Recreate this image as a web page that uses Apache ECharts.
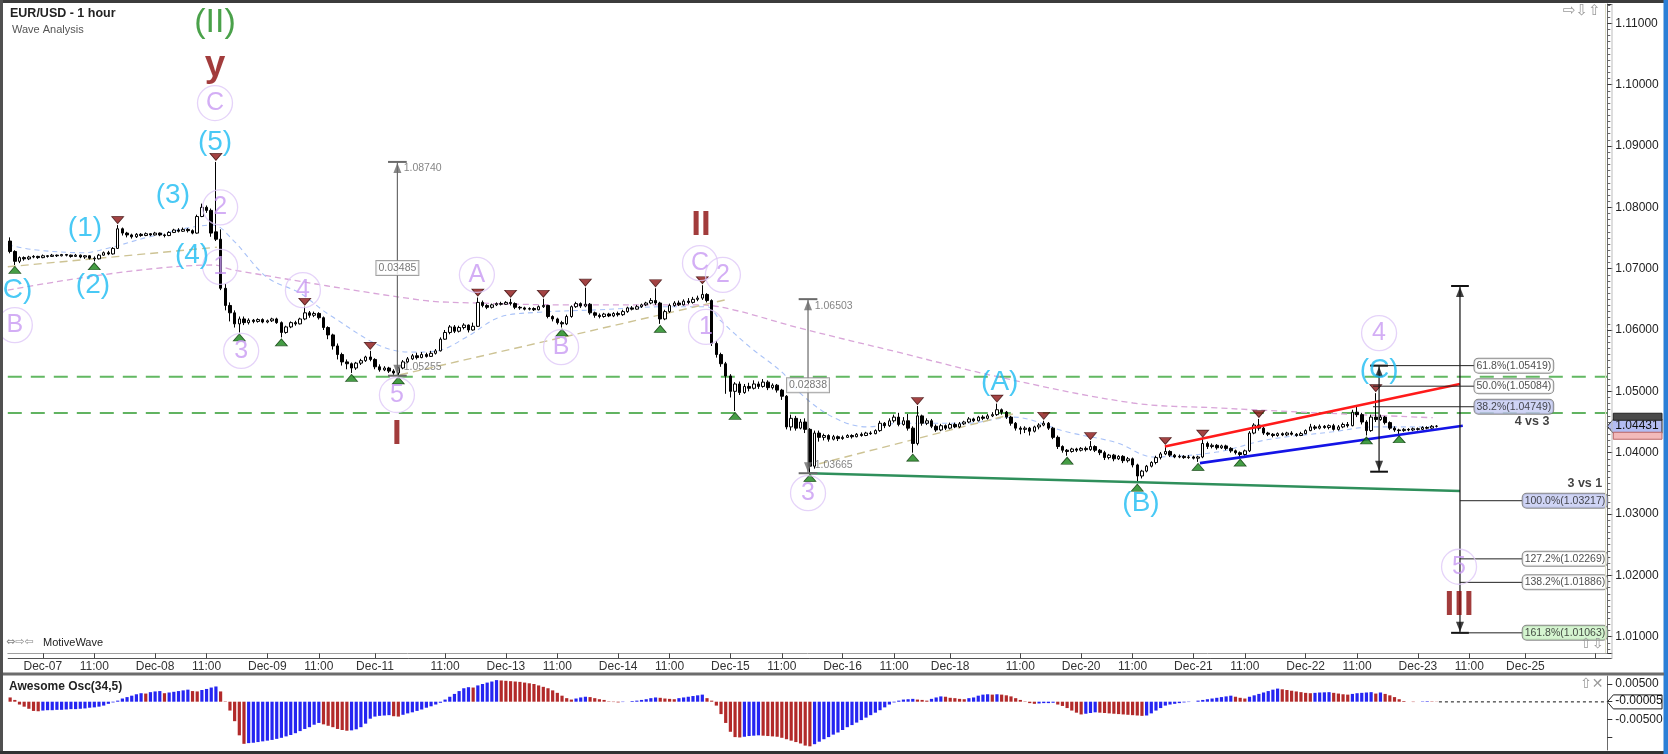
<!DOCTYPE html>
<html>
<head>
<meta charset="utf-8">
<title>EUR/USD - 1 hour</title>
<script src="https://cdn.jsdelivr.net/npm/echarts@6/dist/echarts.min.js"></script>
<style>
html,body{margin:0;padding:0;background:#ffffff;}
#chart{width:1668px;height:754px;}
</style>
</head>
<body>
<div id="chart"></div>
<script>
// ---------------- axis structure (hourly slots, weekends skipped) ----------------
const sessions = [
  ['Dec-06',17,23],['Dec-07',0,23],['Dec-08',0,23],['Dec-09',0,22],
  ['Dec-11',20,23],['Dec-12',0,23],['Dec-13',0,23],['Dec-14',0,23],['Dec-15',0,23],['Dec-16',0,22],
  ['Dec-18',20,23],['Dec-19',0,23],['Dec-20',0,23],['Dec-21',0,23],['Dec-22',0,23],['Dec-23',0,22],
  ['Dec-25',20,23],['Dec-26',0,13]
];
const FIRST_SLOT = -7;               // slot 0 = Dec-07 00:00
const tickSlots = [0,11,24,35,48,59,71,86,99,110,123,134,147,158,171,182,194,209,222,233,246,257,270,281,294,305,317,332];
const tickTexts = ['Dec-07','11:00','Dec-08','11:00','Dec-09','11:00','Dec-11','11:00','Dec-13','11:00','Dec-14','11:00',
  'Dec-15','11:00','Dec-16','11:00','Dec-18','11:00','Dec-20','11:00','Dec-21','11:00','Dec-22','11:00','Dec-23','11:00','Dec-25',''];

// ---------------- price candles: [open, close, low, high] in pips above 1.0000, slots -7 .. 298 ----------------
const candleRows = [
[745,728,725,751],[728,712,706,730],[712,718,709,720],[718,716,713,720],[716,719,714,721],[719,720,717,722],[720,718,716,721],[718,721,717,723],[721,720,718,722],[720,722,719,724],
[722,721,719,723],[721,723,720,724],[723,722,720,724],[722,720,718,723],[720,722,719,724],[722,719,717,723],[719,721,716,722],[721,717,715,722],[717,716,712,720],[716,722,715,724],
[722,726,721,728],[726,724,722,729],[724,733,723,735],[733,765,732,771],[765,758,754,767],[758,755,751,760],[755,752,749,757],[752,756,750,758],[756,754,752,758],[754,757,753,759],
[757,755,753,758],[755,758,754,760],[758,755,753,759],[755,754,751,757],[754,759,753,761],[759,763,758,765],[763,761,759,766],[761,764,760,767],[764,762,759,766],[762,758,756,764],
[758,785,757,788],[785,800,784,806],[800,795,791,803],[795,758,752,798],[760,748,745,874],[748,668,665,764],[668,640,632,675],[640,628,614,645],[628,610,604,632],[610,618,596,622],
[618,612,608,622],[612,616,609,619],[616,614,611,618],[614,617,612,619],[617,613,611,619],[613,615,611,617],[615,618,613,620],[618,612,610,620],[612,596,588,614],[596,605,594,607],
[605,612,603,614],[612,610,607,615],[610,618,609,620],[618,628,616,638],[628,624,620,631],[624,627,621,630],[627,620,617,629],[620,604,600,622],[604,592,585,606],[592,574,568,594],
[574,560,552,578],[560,548,542,563],[548,545,536,552],[545,538,530,547],[538,546,535,548],[546,550,543,553],[550,556,548,558],[556,552,549,566],[552,540,536,554],[540,535,532,544],
[535,538,533,541],[538,533,530,540],[533,530,527,536],[530,538,526,540],[538,548,536,551],[548,553,546,556],[553,558,551,561],[558,555,552,563],[555,560,554,564],[560,557,555,563],
[557,562,556,566],[562,566,560,569],[566,585,565,588],[585,596,584,600],[596,605,593,608],[605,598,595,608],[598,604,596,607],[604,608,601,611],[608,600,596,609],[600,606,599,612],
[606,645,605,653],[645,640,637,648],[640,637,634,642],[637,641,635,643],[641,643,639,645],[643,642,640,646],[642,645,641,647],[645,643,640,651],[643,637,634,645],[637,636,633,639],
[636,634,632,638],[634,635,632,637],[635,633,631,637],[633,638,632,640],[638,640,636,651],[640,622,619,641],[622,618,614,624],[618,612,609,620],[612,610,604,615],[610,622,608,625],
[622,638,620,640],[638,643,636,646],[643,639,636,645],[639,642,637,669],[642,628,625,644],[628,624,620,630],[624,622,619,627],[622,626,620,628],[626,623,621,628],[623,627,621,629],
[627,625,622,630],[625,630,623,633],[630,636,628,638],[636,634,632,639],[634,638,633,641],[638,641,636,643],[641,644,639,646],[644,648,642,652],[648,644,641,668],[644,618,610,646],
[618,630,616,633],[630,640,628,643],[640,644,638,647],[644,641,639,648],[641,647,640,650],[647,645,642,652],[645,650,643,654],[650,652,647,656],[652,658,649,673],[658,648,645,660],
[648,578,574,650],[578,560,555,582],[560,545,540,563],[545,525,496,548],[525,500,490,528],[500,512,468,515],[512,498,494,516],[498,508,496,512],[508,505,500,514],[505,512,503,518],
[512,508,504,516],[508,515,506,520],[515,506,502,518],[506,510,503,513],[510,502,498,512],[502,492,486,504],[492,442,438,494],[442,456,436,462],[456,440,436,460],[440,450,438,455],
[450,438,432,456],[438,378,367,440],[378,432,374,436],[432,425,418,436],[425,428,420,431],[428,422,418,430],[422,426,420,429],[426,423,419,428],[423,425,421,428],[425,428,424,430],
[428,426,423,430],[426,430,425,432],[430,428,426,433],[428,432,427,434],[432,431,429,435],[431,436,430,438],[436,448,434,452],[448,444,440,450],[444,452,442,456],[452,458,449,462],
[458,446,443,465],[446,452,444,458],[452,440,436,463],[440,415,400,443],[415,460,412,476],[460,448,444,462],[448,452,445,456],[452,443,440,455],[443,437,434,446],[437,444,435,447],
[444,440,437,446],[440,446,438,449],[446,442,440,449],[442,447,440,450],[447,450,445,452],[450,455,448,458],[455,452,450,457],[452,458,451,460],[458,456,453,461],[456,460,454,463],
[460,462,458,466],[462,470,460,480],[470,466,462,472],[466,458,455,468],[458,448,444,460],[448,440,436,450],[440,438,430,443],[438,440,432,443],[440,435,428,442],[435,442,433,444],
[442,445,438,448],[445,448,443,452],[448,440,437,450],[440,425,422,442],[425,410,406,428],[410,404,400,412],[404,402,395,406],[402,406,400,408],[406,404,401,408],[404,407,402,409],
[407,405,402,410],[405,410,403,419],[410,404,401,412],[404,400,396,406],[400,392,388,403],[392,396,389,398],[396,390,386,398],[390,394,388,396],[394,387,383,396],[387,390,384,393],
[390,380,376,392],[380,362,351,382],[362,370,358,372],[370,378,368,380],[378,384,376,386],[384,392,381,395],[392,398,389,401],[398,402,396,411],[402,396,393,404],[396,393,391,398],
[393,394,391,397],[394,392,390,396],[392,393,390,396],[393,391,389,395],[391,393,385,395],[393,415,391,423],[415,410,406,418],[410,412,407,415],[412,408,405,414],[408,411,406,413],
[411,407,404,413],[407,403,400,409],[403,400,397,405],[400,397,392,402],[397,403,395,405],[403,432,401,435],[432,445,430,448],[445,440,436,455],[440,432,429,442],[432,430,427,434],
[430,428,425,432],[428,431,426,433],[431,429,427,433],[429,432,427,434],[432,430,428,435],[430,428,426,432],[428,431,427,434],[431,436,430,438],[436,442,435,447],[442,440,437,445],
[440,443,438,446],[443,441,439,445],[441,444,438,446],[444,438,436,447],[438,442,436,445],[442,446,440,449],[446,444,441,450],[444,466,443,470],[466,462,458,475],[462,450,446,465],
[450,436,428,453],[436,458,434,462],[458,454,450,497],[454,458,452,462],[458,449,446,460],[449,440,437,451],[440,437,434,443],[437,436,430,439],[436,438,434,440],[438,437,435,440],
[437,439,435,441],[439,438,436,441],[438,441,437,443],[441,440,438,443],[440,443,439,445],[443,443.1,441,445]
];
const LAST_PRICE = 1.04431;

// ---------------- Awesome Oscillator (34,5), units of 0.0001, slots -7 .. 298 ----------------
const aoValues = [
12,5,-8,-14,-20,-26,-27,
-25,-24,-24,-23,-23,-22,-21,-21,-20,-19,
-17,-16,-14,-11,-6,-2,3,9,13,17,
21,24,23,27,29,30,24,26,28,30,
32,34,30,29,33,36,40,43,29,1,
-25,-55,-95,-119,-117,-116,-114,-112,-110,-108,
-105,-102,-98,-94,-89,-83,-77,-72,-65,-60,
-64,-68,-72,-77,-80,-82,-81,-78,-72,-62,
-48,-42,-40,-39,-38,-41,-42,-37,-33,-30,
-26,-22,-17,-13,-8,-3,6,14,22,30,
38,41,40,46,50,54,57,61,60,59,
58,57,56,54,52,50,46,42,38,32,
25,17,10,6,9,12,14,13,10,7,
5,1,-1,-2,-1,0,2,3,5,7,
10,12,11,9,8,7,10,12,14,16,
18,20,10,3,-11,-35,-60,-85,-100,-101,
-99,-97,-96,-95,-96,-97,-98,-99,-102,-106,
-110,-114,-118,-124,-126,-120,-113,-106,-100,-93,
-87,-80,-72,-66,-59,-52,-45,-38,-31,-24,
-16,-8,-2,3,6,7,8,6,5,3,
8,12,15,14,11,10,8,7,10,12,
17,20,21,20,21,20,18,15,10,5,
1,-4,-6,-5,-4,-4,-3,-8,-12,-18,
-25,-31,-36,-34,-32,-30,-31,-32,-33,-34,
-35,-36,-37,-38,-39,-40,-39,-33,-25,-18,
-11,-8,-6,-4,-2,-1,0,3,5,7,
9,11,13,15,17,14,11,9,14,18,
22,26,30,34,37,35,33,31,29,27,
25,24,25,26,26.5,27,25,23,21,20,
22,24,25,26,27,23,26,22,18,13,
7,2,0,-1,0,1,1.5,1,-0.5
];
const AO_LAST = -0.00005;

// ---------------- swing markers (slots) ----------------
const swingLows  = [-6,11,42,51,66,76,111,132,148,164,186,219,234,247,256,283,290];
const swingHighs = [16,37,56,70,93,100,107,116,131,141,187,204,214,224,240,248,260,285];

// ---------------- overlays: [slot, price] ----------------
const greenDashLevels = [1.05239, 1.04647];
const maSlow = [[-7.5,1.0665],[36.4,1.0706],[40.6,1.0698],[80.6,1.0649],[92.8,1.0644],[112.1,1.0641],[140.5,1.0641],
  [147.6,1.0633],[161.9,1.0603],[183.3,1.0563],[204.6,1.0523],[233.1,1.0481],[251.0,1.0473],[272.4,1.0465],[297.2,1.0457]];
const maFast = [[-7.5,1.0739],[-2.1,1.0731],[8.6,1.0726],[14.3,1.0734],[22.9,1.0752],[36.4,1.0771],[40.6,1.0747],[47.9,1.0686],
  [55.0,1.0660],[61.4,1.0624],[74.9,1.0567],[80.0,1.0564],[84.9,1.0567],[90.7,1.0589],[97.7,1.0621],[106.3,1.0629],[119.1,1.0633],
  [133.4,1.0638],[142.0,1.0638],[144.8,1.0616],[151.2,1.0572],[158.2,1.0530],[161.9,1.0497],[168.9,1.0458],[176.2,1.0442],
  [183.3,1.0448],[197.6,1.0448],[207.4,1.0458],[218.9,1.0434],[229.7,1.0416],[237.4,1.0393],[251.0,1.0401],[261.7,1.0421],
  [275.8,1.0434],[284.4,1.0442],[297.2,1.0442]];
const waveLinks = [ [[-7.5,1.0703],[37.2,1.0735]], [[76.4,1.0527],[145.8,1.0649]], [[166,1.0382],[207.4,1.0463]] ];
const trendGreen = [[164,1.03665],[303.0,1.03375]];
const trendRed   = [[239.9,1.0410],[303.0,1.0512]];
const trendBlue  = [[247.4,1.0383],[303.6,1.0444]];

// measuring tools: [slot, low, high]
const measureGray  = [[75.8,1.05255,1.08740],[163.6,1.03665,1.06503]];
const measureBlack = [[285.7,1.0369,1.05419],[303.0,1.01063,1.06717]];
const measureTexts = [['1.08740',76.6,1.0864],['1.05255',76.6,1.0540],['1.06503',164.5,1.0639],['1.03665',164.5,1.0380]];
const measureBoxes = [['0.03485',75.8,1.0701],['0.02838',163.6,1.0510]];
// Fibonacci levels: [text, price, style]
const fibFrom4 = [['61.8%(1.05419)',1.05419,'w'],['50.0%(1.05084)',1.05084,'w'],['38.2%(1.04749)',1.04749,'b']];
const fibFrom1 = [['100.0%(1.03217)',1.03217,'b'],['127.2%(1.02269)',1.02269,'w'],['138.2%(1.01886)',1.01886,'w'],['161.8%(1.01063)',1.01063,'g']];
const fibNotes = [['4 vs 3',318.4,1.0450],['3 vs 1',329.7,1.0350]];

// wave labels: [text, slot, price]
const waveCyan = [['(5)',36.8,1.0906],['(3)',27.8,1.0820],['(1)',9.0,1.0766],['(4)',31.9,1.0722],['(2)',10.7,1.0673],
  ['(C)',-6.4,1.0665],['(A)',204.6,1.0515],['(B)',234.8,1.0318],['(C)',285.7,1.0535]];
const waveCircle = [['C',36.8,1.0970],['2',37.9,1.0800],['1',37.9,1.0703],['4',55.6,1.0665],['B',-6.0,1.0608],['3',42.4,1.0566],
  ['5',75.7,1.0494],['A',92.8,1.0690],['B',110.8,1.0572],['C',140.5,1.0709],['2',145.4,1.0690],['1',141.8,1.0605],
  ['3',163.6,1.0334],['4',285.7,1.0595],['5',302.8,1.0214]];
const waveRoman = [['y',36.8,1.1031],['I',75.7,1.0430],['II',140.7,1.0770],['III',302.8,1.0151]];
const waveGreen = [['(II)',36.8,1.1101]];

// ---------------- build ----------------
const categories = [];
sessions.forEach(([d,a,b]) => { for (let h=a; h<=b; h++) categories.push(d+' '+String(h).padStart(2,'0')+':00'); });
const tickIdx = new Map();
tickSlots.forEach((s,i) => tickIdx.set(s - FIRST_SLOT, tickTexts[i]));
const P = v => +(1 + v/10000).toFixed(5);
const candleData = candleRows.map(r => r.map(P));
const lowAt = s => P(candleRows[s - FIRST_SLOT][2]);
const highAt = s => P(candleRows[s - FIRST_SLOT][3]);
const XMIN = -7.5, XMAX = categories.length + FIRST_SLOT - 0.5;
const FONT = '"Liberation Sans", Arial, sans-serif';

function seg(points, color, width, type, z) {
  return {type:'line', xAxisIndex:1, yAxisIndex:0, data:points, showSymbol:false, symbol:'none', silent:true,
    z: z || 3, clip:false, lineStyle:{color:color, width:width, type:type || 'solid'}};
}
function smoothLine(points, color, width, dash) {
  const s = seg(points, color, width, dash, 1); s.smooth = 0.35; return s;
}
function textSeries(items, label, z) {
  return {type:'scatter', xAxisIndex:1, yAxisIndex:0, symbolSize:1, itemStyle:{color:'rgba(0,0,0,0)'}, silent:true,
    clip:false, z: z || 6,
    data: items.map(d => ({name:d[0], value:[d[1], d[2]]})),
    label: Object.assign({show:true, formatter:'{b}', fontFamily:FONT}, label)};
}
function arrowSeries(pts, color, dir) {
  return {type:'scatter', xAxisIndex:1, yAxisIndex:0, symbol:'triangle', symbolSize:[8,10],
    symbolRotate: dir === 'up' ? 0 : 180, symbolOffset:[0, dir === 'up' ? 6 : -6],
    itemStyle:{color:color}, silent:true, clip:false, z:5, data:pts};
}

const series = [];
// green dashed horizontal levels
series.push(seg([[XMIN,greenDashLevels[0]],[XMAX,greenDashLevels[0]]], '#62b862', 2, [14,9], 1));
series.push(seg([[XMIN,greenDashLevels[1]],[XMAX,greenDashLevels[1]]], '#2e9a2e', 1.4, [14,9], 1));
// moving averages
series.push(smoothLine(maSlow, '#d9a6d9', 1.3, [6,4]));
series.push(smoothLine(maFast, '#a9c2f7', 1.1, [5,4]));
// wave connector lines
waveLinks.forEach(w => series.push(seg(w, '#cdc394', 1.4, [8,5], 1)));
// candles
series.push({type:'candlestick', xAxisIndex:0, yAxisIndex:0, data:candleData, barWidth:3, z:3, silent:true,
  itemStyle:{color:'#ffffff', color0:'#000000', borderColor:'#000000', borderColor0:'#000000', borderWidth:1}});
// trend lines
series.push(seg(trendGreen, '#2f8f5b', 2.6, 'solid', 4));
series.push(seg(trendRed, '#ff1a1a', 2.6, 'solid', 4));
series.push(seg(trendBlue, '#1414e6', 2.6, 'solid', 4));
// swing markers
series.push({type:'scatter', xAxisIndex:1, yAxisIndex:0, symbol:'triangle', symbolSize:[12,7], symbolOffset:[0,5],
  itemStyle:{color:'#178517', borderColor:'#0a3a0a', borderWidth:0.8}, silent:true, z:4,
  data: swingLows.map(s => [s, lowAt(s)])});
series.push({type:'scatter', xAxisIndex:1, yAxisIndex:0, symbol:'triangle', symbolSize:[12,7], symbolRotate:180, symbolOffset:[0,-5],
  itemStyle:{color:'#8c1414', borderColor:'#3a0a0a', borderWidth:0.8}, silent:true, z:4,
  data: swingHighs.map(s => [s, highAt(s)])});
// measuring tools
function measure(m, color, half) {
  const [s, lo, hi] = m;
  series.push(seg([[s,lo],[s,hi]], color, 1.2, 'solid', 5));
  series.push(seg([[s-half,hi],[s+half,hi]], color, 2, 'solid', 5));
  series.push(seg([[s-half,lo],[s+half,lo]], color, 2, 'solid', 5));
  series.push(arrowSeries([[s,hi]], color, 'up'));
  series.push(arrowSeries([[s,lo]], color, 'down'));
}
measureGray.forEach(m => measure(m, '#6a6a6a', 2));
measureBlack.forEach(m => measure(m, '#111111', 1.9));
series.push(textSeries(measureTexts, {position:'right', distance:2, color:'#666', fontSize:10.5}));
series.push(textSeries(measureBoxes, {position:'inside', color:'#555', fontSize:10.5, backgroundColor:'#ffffff',
  borderColor:'#8a8a8a', borderWidth:1, padding:[2,2,1,2]}));
// fibonacci levels
const fibStyle = {w:'#ffffff', b:'#c3c9f2', g:'#cbf3c4'};
const BOX4 = 306.0, BOX1 = 316.3;
fibFrom4.forEach(f => series.push(seg([[284.4,f[1]],[BOX4,f[1]]], '#222', 1, 'solid', 5)));
fibFrom1.forEach(f => series.push(seg([[measureBlack[1][0],f[1]],[BOX1,f[1]]], '#222', 1, 'solid', 5)));
function fibLabels(list, sx) {
  ['w','b','g'].forEach(k => {
    const items = list.filter(f => f[2] === k).map(f => [f[0], sx, f[1]]);
    if (items.length) series.push(textSeries(items, {position:'right', distance:0, color:'#1a1a1a', fontSize:10.5,
      backgroundColor:fibStyle[k], borderColor:'#6e6e6e', borderWidth:1, borderRadius:4, padding:[2,2,1,2]}, 7));
  });
}
fibLabels(fibFrom4, BOX4);
fibLabels(fibFrom1, BOX1);
series.push(textSeries(fibNotes, {position:'inside', color:'#111', fontSize:12.5, fontWeight:'bold'}, 7));
// wave labels
series.push(textSeries(waveCyan, {position:'inside', color:'#1cbcf2', fontSize:28}, 8));
series.push({type:'scatter', xAxisIndex:1, yAxisIndex:0, symbol:'circle', symbolSize:35, silent:true, clip:false, z:8,
  itemStyle:{color:'rgba(255,255,255,0)', borderColor:'#dec8f8', borderWidth:1.3},
  data: waveCircle.map(d => ({name:d[0], value:[d[1], d[2]]})),
  label:{show:true, position:'inside', formatter:'{b}', color:'#c89af2', fontSize:25, fontFamily:FONT}});
series.push(textSeries(waveRoman.filter(d => d[0] === 'y'), {position:'inside', color:'#8b0b0b', fontSize:37, fontWeight:'bold'}, 8));
series.push(textSeries(waveRoman.filter(d => d[0] !== 'y'), {position:'inside', color:'#8b0b0b', fontSize:35, fontWeight:'bold'}, 8));
series.push(textSeries(waveGreen, {position:'inside', color:'#1d8a1d', fontSize:34}, 8));
// awesome oscillator
series.push({type:'bar', xAxisIndex:2, yAxisIndex:1, barWidth:3.2, silent:true,
  data: aoValues.map((v,i) => ({value: v/10000,
    itemStyle:{color: (i > 0 && v >= aoValues[i-1]) ? '#2525f2' : '#b22a2a'}}))});
series.push({type:'line', xAxisIndex:3, yAxisIndex:1, data:[[298.5,AO_LAST],[XMAX,AO_LAST]], showSymbol:false, symbol:'none',
  silent:true, lineStyle:{color:'#111', width:1, type:[3,3]}});

const option = {
  animation:false,
  backgroundColor:'#ffffff',
  textStyle:{fontFamily:FONT},
  grid:[
    {left:7.8, right:60.7, top:4, bottom:100.7, outerBoundsMode:'none', containLabel:false},
    {left:7.8, right:60.7, top:676, bottom:4, outerBoundsMode:'none', containLabel:false}
  ],
  xAxis:[
    {type:'category', gridIndex:0, data:categories, boundaryGap:true,
     axisLine:{show:true, onZero:false, lineStyle:{color:'#a0a0a0', width:1}},
     axisTick:{show:true, alignWithLabel:true, interval:(i) => tickIdx.has(i), length:5, lineStyle:{color:'#444'}},
     axisLabel:{show:true, interval:(i) => tickIdx.has(i), formatter:(v,i) => tickIdx.get(i) || '',
       color:'#333', fontSize:12, margin:7, fontFamily:FONT},
     splitLine:{show:false}},
    {type:'value', gridIndex:0, min:XMIN, max:XMAX, show:false, position:'top',
     axisLine:{show:false, onZero:false}, splitLine:{show:false}},
    {type:'category', gridIndex:1, data:categories, boundaryGap:true, show:false, axisLine:{show:false, onZero:false}},
    {type:'value', gridIndex:1, min:XMIN, max:XMAX, show:false, position:'top',
     axisLine:{show:false, onZero:false}, splitLine:{show:false}}
  ],
  yAxis:[
    {type:'value', gridIndex:0, position:'right', min:1.007294, max:1.113146, splitNumber:10, minInterval:0.01, maxInterval:0.01,
     axisLine:{show:true, onZero:false, lineStyle:{color:'#6a6a6a'}},
     axisTick:{show:true, length:5, lineStyle:{color:'#333'}},
     minorTick:{show:true, splitNumber:10, length:3, lineStyle:{color:'#666'}},
     splitLine:{show:false}, minorSplitLine:{show:false},
     axisLabel:{formatter:v => v.toFixed(5), color:'#222', fontSize:12, margin:8, fontFamily:FONT,
       showMinLabel:false, showMaxLabel:false}},
    {type:'value', gridIndex:1, position:'right', min:-0.013644, max:0.00726, splitNumber:4, minInterval:0.005, maxInterval:0.005,
     axisLine:{show:true, onZero:false, lineStyle:{color:'#6a6a6a'}},
     axisTick:{show:true, length:5, lineStyle:{color:'#333'}},
     splitLine:{show:false},
     axisLabel:{formatter:v => (Math.abs(Math.abs(v) - 0.005) < 1e-9 ? v.toFixed(5) : ''), color:'#222', fontSize:12,
       margin:8, fontFamily:FONT, showMinLabel:false, showMaxLabel:false}}
  ],
  series:series
};

const chart = echarts.init(document.getElementById('chart'), null, {renderer:'canvas', width:1668, height:754});
chart.setOption(option);

// ---------------- chrome + value boxes ----------------
const yP = chart.convertToPixel({yAxisIndex:0}, LAST_PRICE);
const yA = chart.convertToPixel({yAxisIndex:1}, AO_LAST);
const AX = 1607.3;
function valueBox(y, text, fill, h) {
  return {type:'group', z:120, children:[
    {type:'polygon', shape:{points:[[AX,y],[AX+6,y-h/2],[1662,y-h/2],[1662,y+h/2],[AX+6,y+h/2]]},
     style:{fill:fill, stroke:'#222', lineWidth:1}},
    {type:'text', x:AX+8, y:y-7, style:{text:text, font:'12px ' + FONT, fill:'#111'}}
  ]};
}
const graphics = [
  {type:'rect', z:100, shape:{x:0,y:0,width:1668,height:3}, style:{fill:'#3c3c3c'}},
  {type:'rect', z:100, shape:{x:0,y:0,width:3,height:754}, style:{fill:'#505050'}},
  {type:'rect', z:100, shape:{x:0,y:751,width:1668,height:3}, style:{fill:'#333333'}},
  {type:'rect', z:100, shape:{x:1663.5,y:0,width:4.5,height:754}, style:{fill:'#2b7fd6'}},
  {type:'rect', z:100, shape:{x:3,y:672.5,width:1661,height:3}, style:{fill:'#6c6c6c'}},
  {type:'line', z:100, shape:{x1:7.8,y1:658.5,x2:1612,y2:658.5}, style:{stroke:'#555', lineWidth:1}},
  {type:'line', z:100, shape:{x1:1612,y1:4,x2:1612,y2:659}, style:{stroke:'#bdbdbd', lineWidth:1}},
  {type:'line', z:100, shape:{x1:1605.5,y1:4,x2:1605.5,y2:653}, style:{stroke:'#dcdcc6', lineWidth:1}},
  {type:'text', z:100, x:10, y:7, style:{text:'EUR/USD - 1 hour', font:'bold 12.5px ' + FONT, fill:'#222'}},
  {type:'text', z:100, x:12, y:24.5, style:{text:'Wave Analysis', font:'11px ' + FONT, fill:'#555'}},
  {type:'text', z:100, x:1563, y:4, style:{text:'\u21E8\u21E9\u21E7', font:'15px "DejaVu Sans"', fill:'#9a9a9a'}},
  {type:'text', z:100, x:6, y:637, style:{text:'\u21D4\u21E8\u21E6', font:'11px "DejaVu Sans"', fill:'#888'}},
  {type:'text', z:100, x:43, y:637.5, style:{text:'MotiveWave', font:'11px ' + FONT, fill:'#222'}},
  {type:'text', z:100, x:1580, y:637, style:{text:'\u21E7\u21E9', font:'14px "DejaVu Sans"', fill:'#9a9a9a'}},
  {type:'text', z:100, x:1580, y:677, style:{text:'\u21E7\u2715', font:'14px "DejaVu Sans"', fill:'#9a9a9a'}},
  {type:'text', z:100, x:9, y:681, style:{text:'Awesome Osc(34,5)', font:'bold 12px ' + FONT, fill:'#222'}},
  {type:'rect', z:110, shape:{x:AX+6,y:yP-13,width:1662-AX-6,height:7}, style:{fill:'#4a4a4a', stroke:'#222', lineWidth:1}},
  {type:'rect', z:110, shape:{x:AX+6,y:yP+6,width:1662-AX-6,height:7}, style:{fill:'#f3b9b9', stroke:'#b66', lineWidth:1}},
  valueBox(yP, '1.04431', '#b3bcf2', 14),
  valueBox(yA, '-0.00005', '#ffffff', 14)
];
chart.setOption({graphic: graphics});
</script>
</body>
</html>
